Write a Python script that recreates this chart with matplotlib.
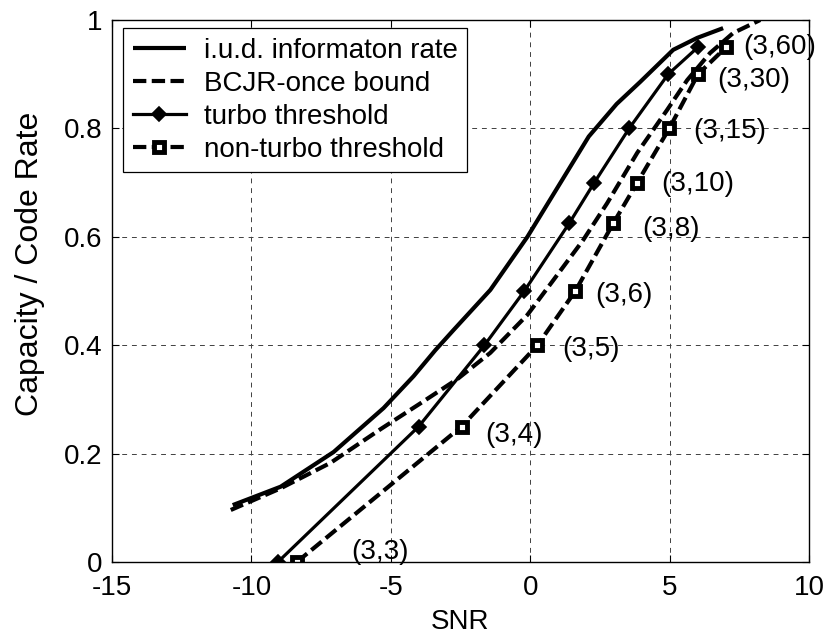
import matplotlib
matplotlib.use("Agg")
import matplotlib.pyplot as plt

plt.rcParams['font.family'] = ['Liberation Sans', 'DejaVu Sans']

# i.u.d. information rate curve
iud_snr = [-10.67, -8.95, -7.05, -5.26, -4.18, -3.40, -2.75, -1.43, -0.10, 0.97, 2.10, 3.10, 3.95, 5.13, 5.99, 6.92]
iud_rate = [0.105, 0.139, 0.203, 0.284, 0.343, 0.391, 0.428, 0.502, 0.600, 0.690, 0.785, 0.845, 0.886, 0.945, 0.967, 0.985]

# BCJR-once bound curve
bcjr_snr = [-10.74, -8.95, -7.16, -5.37, -3.93, -2.60, -1.43, -0.10, 0.83, 1.90, 2.76, 3.84, 4.91, 5.63, 6.45, 7.28, 8.25]
bcjr_rate = [0.096, 0.136, 0.183, 0.245, 0.293, 0.338, 0.386, 0.456, 0.520, 0.594, 0.662, 0.755, 0.834, 0.889, 0.939, 0.976, 1.000]

# Regular (3,k) LDPC codes and their rates
code_labels = ['(3,3)', '(3,4)', '(3,5)', '(3,6)', '(3,8)', '(3,10)', '(3,15)', '(3,30)', '(3,60)']
code_rates = [0.0, 0.25, 0.4, 0.5, 0.625, 0.7, 0.8, 0.9, 0.95]

# Threshold SNRs for each code
turbo_snr = [-9.05, -4.00, -1.64, -0.21, 1.40, 2.30, 3.55, 4.95, 6.02]
nonturbo_snr = [-8.37, -2.46, 0.26, 1.62, 2.98, 3.84, 4.99, 6.02, 7.03]

# Label offsets (points) from each non-turbo marker
label_dx = [39, 17, 18, 14, 21, 17, 17, 14, 12]
label_dy = [7, -6, -3, -3, -4, -1, -2, -4, 0]

fig = plt.figure(figsize=(8.26, 6.37), dpi=100)
ax = fig.add_axes([0.1356, 0.1177, 0.8438, 0.8509])

ax.plot(iud_snr, iud_rate, color='black', lw=3.0, solid_capstyle='butt',
        label='i.u.d. informaton rate')
ax.plot(bcjr_snr, bcjr_rate, color='black', lw=3.0, linestyle=(0, (3.2, 1.3)),
        label='BCJR-once bound')
ax.plot(turbo_snr, code_rates, color='black', lw=2.3, marker='D', ms=7,
        mfc='black', mec='black', mew=1.2, label='turbo threshold')
ax.plot(nonturbo_snr, code_rates, color='black', lw=3.0, linestyle=(0, (3.2, 1.3)),
        marker='s', ms=6.5, mfc='white', mec='black', mew=3.5,
        label='non-turbo threshold')

for x, y, txt, dx, dy in zip(nonturbo_snr, code_rates, code_labels, label_dx, label_dy):
    ax.annotate(txt, xy=(x, y), xytext=(dx, dy), textcoords='offset points',
                ha='left', va='center', fontsize=20, clip_on=False)

ax.set_xlim(-15, 10)
ax.set_ylim(0, 1)
ax.set_xticks([-15, -10, -5, 0, 5, 10])
ax.set_xticklabels(['-15', '-10', '-5', '0', '5', '10'])
ax.set_yticks([0, 0.2, 0.4, 0.6, 0.8, 1.0])
ax.set_yticklabels(['0', '0.2', '0.4', '0.6', '0.8', '1'])
ax.tick_params(direction='in', length=5, width=0.8, labelsize=20,
               top=True, right=True)
ax.tick_params(axis='x', pad=9)
ax.tick_params(axis='y', pad=7)
ax.grid(True, color='0.25', linestyle=(0, (5, 5)), lw=0.7)
for sp in ax.spines.values():
    sp.set_linewidth(1.0)
    sp.set_color('black')

ax.set_xlabel('SNR', fontsize=20, labelpad=6)
ax.set_ylabel('Capacity / Code Rate', fontsize=23, labelpad=6)
ax.yaxis.set_label_coords(-0.096, 0.55)

leg = ax.legend(loc='upper left', bbox_to_anchor=(0.0158, 0.985), borderaxespad=0,
                fontsize=20, handlelength=1.9, handletextpad=0.65, borderpad=0.35,
                labelspacing=0.25, numpoints=1, fancybox=False, framealpha=1,
                edgecolor='black')
leg.get_frame().set_linewidth(0.9)

fig.savefig('out.png', dpi=100)
